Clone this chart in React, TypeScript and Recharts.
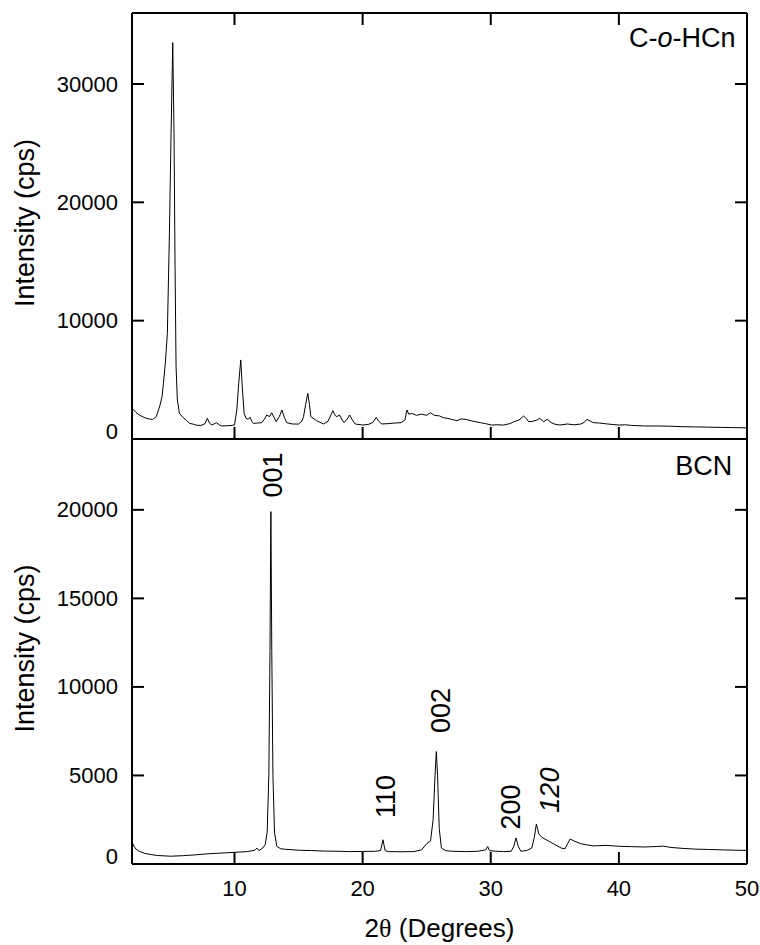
import React from 'react';
import { LineChart, Line, XAxis, YAxis, ReferenceDot } from 'recharts';

// C-o-HCn pattern (top panel)
const cohcnTheta = [
  2.0, 2.3, 2.6, 3.0, 3.3, 3.6, 3.9, 4.19, 4.35, 4.45, 4.6, 4.76, 4.92, 5.05, 5.18, 5.28, 5.36, 5.44, 5.54, 5.7,
  6.0, 6.27, 6.5, 6.8, 7.05, 7.4, 7.7, 7.88, 8.05, 8.2, 8.45, 8.6, 8.8, 9.0, 9.4, 9.8, 10.0, 10.18, 10.33, 10.49,
  10.59, 10.75, 10.9, 11.05, 11.22, 11.35, 11.48, 11.8, 12.13, 12.35, 12.52, 12.73, 12.9, 13.1, 13.25, 13.5, 13.7, 13.9, 14.08, 14.5,
  15.0, 15.25, 15.39, 15.55, 15.72, 15.85, 15.96, 16.2, 16.4, 16.95, 17.3, 17.68, 17.85, 17.99, 18.2, 18.4, 18.56, 18.8, 18.98, 19.2,
  19.42, 20.0, 20.5, 20.8, 21.06, 21.25, 21.5, 22.0, 22.5, 23.0, 23.3, 23.46, 23.6, 23.9, 24.2, 24.6, 25.0, 25.3, 25.6, 26.0,
  26.3, 26.6, 27.0, 27.36, 27.7, 28.1, 28.6, 29.2, 29.6, 30.05, 30.5, 31.0, 31.5, 31.8, 32.2, 32.57, 32.8, 32.96, 33.3, 33.6,
  33.82, 34.13, 34.4, 34.7, 35.0, 35.4, 35.96, 36.5, 37.0, 37.3, 37.5, 37.8, 38.0, 38.5, 39.1, 39.6, 40.0, 40.5, 41.0, 42.0,
  43.0, 44.0, 45.0, 46.0, 47.0, 48.0, 49.0, 50.0,
];
const cohcnCps = [
  2600, 2250, 2000, 1800, 1700, 1650, 1900, 2870, 3600, 4700, 6400, 8930, 17400, 25800, 33500, 25800, 14560, 6100, 3300, 2170,
  1800, 1550, 1320, 1250, 1160, 1150, 1300, 1750, 1350, 1180, 1300, 1380, 1200, 1100, 1120, 1150, 1200, 2450, 4700, 6680,
  4700, 2170, 1750, 1665, 1830, 1500, 1320, 1350, 1380, 1700, 2030, 1890, 2220, 1800, 1460, 1900, 2450, 1800, 1380, 1270,
  1260, 1500, 1890, 2900, 3860, 2900, 1890, 1700, 1550, 1270, 1500, 2390, 2000, 1890, 2030, 1600, 1380, 1700, 2030, 1600,
  1270, 1180, 1250, 1400, 1830, 1500, 1270, 1300, 1350, 1380, 1600, 2450, 2100, 2150, 2000, 2100, 2000, 2220, 2000, 1950,
  1800, 1750, 1650, 1550, 1700, 1650, 1500, 1380, 1300, 1180, 1200, 1180, 1300, 1460, 1600, 1940, 1700, 1460, 1500, 1600,
  1750, 1460, 1660, 1400, 1250, 1180, 1270, 1200, 1260, 1400, 1660, 1500, 1380, 1350, 1270, 1220, 1180, 1200, 1150, 1100,
  1100, 1080, 1040, 1020, 1000, 980, 960, 940,
];

// BCN pattern (bottom panel)
const bcnTheta = [
  2.0, 2.15, 2.3, 2.6, 3.0, 3.5, 4.0, 5.0, 6.0, 7.0, 8.0, 9.0, 10.0, 11.0, 11.6, 11.75, 11.9, 12.2, 12.4, 12.55,
  12.68, 12.77, 12.84, 12.91, 13.0, 13.12, 13.3, 13.6, 14.0, 15.0, 16.0, 17.0, 18.0, 19.0, 20.0, 21.0, 21.4, 21.59, 21.75, 22.0,
  23.0, 24.0, 24.6, 25.0, 25.3, 25.5, 25.65, 25.75, 25.85, 25.98, 26.15, 26.5, 27.0, 28.0, 29.0, 29.6, 29.76, 29.9, 30.5, 31.0,
  31.6, 31.8, 31.97, 32.15, 32.35, 32.8, 33.2, 33.4, 33.56, 33.75, 34.0, 34.5, 35.0, 35.5, 35.8, 36.0, 36.2, 36.5, 37.0, 37.5,
  38.0, 39.0, 40.0, 41.0, 42.0, 43.0, 43.5, 44.0, 45.0, 46.0, 47.0, 48.0, 49.0, 50.0,
];
const bcnCps = [
  1250, 1000, 850, 700, 600, 530, 480, 440, 470, 520, 580, 620, 660, 700, 780, 900, 760, 900, 1100, 1800,
  5000, 12000, 19900, 12000, 5000, 1800, 1000, 860, 830, 780, 760, 730, 720, 700, 710, 720, 760, 1370, 760, 700,
  690, 700, 800, 1150, 1300, 2500, 5000, 6350, 5000, 2000, 900, 750, 720, 700, 720, 800, 990, 750, 720, 700,
  720, 1000, 1470, 1000, 720, 760, 900, 1500, 2260, 1700, 1500, 1300, 1100, 900, 860, 1150, 1410, 1300, 1150, 1080,
  1020, 1050, 1000, 980, 960, 990, 1010, 940, 880, 840, 820, 800, 780, 770,
];

// reflection indices over the BCN peaks
const peakText = ['001', '110', '002', '200', '120'];
const peakTheta = [12.99, 21.84, 26.14, 31.61, 34.66];
const peakCps = [20700, 2600, 7400, 1950, 2900];
const peakItalic = [false, false, false, false, true];

const xTicksTop = [10, 20, 30, 40];
const xTicksBottom = [10, 20, 30, 40, 50];
const yTicksTop = [0, 10000, 20000, 30000];
const yTicksBottom = [0, 5000, 10000, 15000, 20000];

const topData = cohcnTheta.map((x, i) => ({ x, y: cohcnCps[i] }));
const bottomData = bcnTheta.map((x, i) => ({ x, y: bcnCps[i] }));

const FONT = '"Liberation Sans", Arial, sans-serif';
const axisLine = { stroke: '#000', strokeWidth: 2 };
const tickLine = { stroke: '#000', strokeWidth: 2 };
const blank = () => '';

const YTick = ({ x, y, payload }: any) => (
  <text
    x={x}
    y={payload.value === 0 ? y - 8 : y}
    textAnchor="end"
    dominantBaseline="central"
    fontSize={22}
    fontFamily={FONT}
    fill="#000"
  >
    {payload.value}
  </text>
);

const YTitle = ({ viewBox }: any) => {
  const cx = viewBox.x + 25;
  const cy = viewBox.y + viewBox.height / 2 - 3;
  return (
    <text
      x={cx}
      y={cy}
      transform={`rotate(-90, ${cx}, ${cy})`}
      textAnchor="middle"
      dominantBaseline="central"
      fontSize={27}
      fontFamily={FONT}
      fill="#000"
    >
      Intensity (cps)
    </text>
  );
};

const XTitle = ({ viewBox }: any) => {
  const cx = viewBox.x + viewBox.width / 2;
  const cy = viewBox.y + 64;
  return (
    <text x={cx} y={cy} textAnchor="middle" dominantBaseline="central" fontSize={26} fontFamily={FONT} fill="#000">
      2<tspan fontFamily='"Liberation Serif", serif'>θ</tspan> (Degrees)
    </text>
  );
};

const PeakLabel = ({ viewBox, text, italic }: any) => {
  const { x, y } = viewBox;
  return (
    <text
      x={x}
      y={y}
      transform={`rotate(-90, ${x}, ${y})`}
      textAnchor="start"
      dominantBaseline="central"
      fontSize={27}
      fontStyle={italic ? 'italic' : 'normal'}
      fontFamily={FONT}
      fill="#000"
    >
      {text}
    </text>
  );
};

const PanelLabel = ({ viewBox, children }: any) => (
  <text
    x={viewBox.x}
    y={viewBox.y}
    textAnchor="end"
    dominantBaseline="central"
    fontSize={27}
    fontFamily={FONT}
    fill="#000"
  >
    {children}
  </text>
);

export default function App() {
  return (
    <div style={{ position: 'absolute', left: 0, top: 0, width: 760, height: 945, background: '#fff', fontFamily: FONT }}>
      <div style={{ position: 'absolute', left: 0, top: 0 }}>
        <LineChart width={760} height={460} data={topData} margin={{ top: 12, right: 12, bottom: 0, left: 0 }}>
          <XAxis
            xAxisId="b"
            dataKey="x"
            type="number"
            domain={[2, 50]}
            allowDataOverflow
            ticks={xTicksTop}
            interval={0}
            height={21}
            tickSize={-12}
            tickFormatter={blank}
            axisLine={axisLine}
            tickLine={tickLine}
          />
          <XAxis
            xAxisId="t"
            orientation="top"
            dataKey="x"
            type="number"
            domain={[2, 50]}
            allowDataOverflow
            ticks={xTicksTop}
            interval={0}
            height={1}
            tickSize={-12}
            tickFormatter={blank}
            axisLine={axisLine}
            tickLine={tickLine}
          />
          <YAxis
            yAxisId="l"
            type="number"
            domain={[0, 36000]}
            allowDataOverflow
            ticks={yTicksTop}
            interval={0}
            width={132}
            tickSize={-12}
            tickMargin={26}
            tick={<YTick />}
            axisLine={axisLine}
            tickLine={tickLine}
            label={<YTitle />}
          />
          <YAxis
            yAxisId="r"
            orientation="right"
            type="number"
            domain={[0, 36000]}
            allowDataOverflow
            ticks={yTicksTop}
            interval={0}
            width={1}
            tickSize={-12}
            tickFormatter={blank}
            axisLine={axisLine}
            tickLine={tickLine}
          />
          <Line
            xAxisId="b"
            yAxisId="l"
            type="linear"
            dataKey="y"
            stroke="#000"
            strokeWidth={1}
            dot={false}
            isAnimationActive={false}
          />
          <ReferenceDot
            xAxisId="b"
            yAxisId="l"
            x={49.1}
            y={33900}
            r={0}
            fill="none"
            stroke="none"
            label={
              <PanelLabel>
                C-<tspan fontStyle="italic">o</tspan>-HCn
              </PanelLabel>
            }
          />
        </LineChart>
      </div>
      <div style={{ position: 'absolute', left: 0, top: 439 }}>
        <LineChart width={760} height={506} data={bottomData} margin={{ top: 0, right: 12, bottom: 0, left: 0 }}>
          <XAxis
            xAxisId="b"
            dataKey="x"
            type="number"
            domain={[2, 50]}
            allowDataOverflow
            ticks={xTicksBottom}
            interval={0}
            height={81}
            tickSize={-12}
            tickMargin={28}
            tick={{ fontSize: 22, fill: '#000', fontFamily: FONT }}
            axisLine={axisLine}
            tickLine={tickLine}
            label={<XTitle />}
          />
          <YAxis
            yAxisId="l"
            type="number"
            domain={[0, 24000]}
            allowDataOverflow
            ticks={yTicksBottom}
            interval={0}
            width={132}
            tickSize={-12}
            tickMargin={26}
            tick={<YTick />}
            axisLine={axisLine}
            tickLine={tickLine}
            label={<YTitle />}
          />
          <YAxis
            yAxisId="r"
            orientation="right"
            type="number"
            domain={[0, 24000]}
            allowDataOverflow
            ticks={yTicksBottom}
            interval={0}
            width={1}
            tickSize={-12}
            tickFormatter={blank}
            axisLine={axisLine}
            tickLine={tickLine}
          />
          <Line
            xAxisId="b"
            yAxisId="l"
            type="linear"
            dataKey="y"
            stroke="#000"
            strokeWidth={1}
            dot={false}
            isAnimationActive={false}
          />
          {peakText.map((t, i) => (
            <ReferenceDot
              key={t}
              xAxisId="b"
              yAxisId="l"
              x={peakTheta[i]}
              y={peakCps[i]}
              r={0}
              fill="none"
              stroke="none"
              label={<PeakLabel text={t} italic={peakItalic[i]} />}
            />
          ))}
          <ReferenceDot
            xAxisId="b"
            yAxisId="l"
            x={48.85}
            y={22480}
            r={0}
            fill="none"
            stroke="none"
            label={<PanelLabel>BCN</PanelLabel>}
          />
        </LineChart>
      </div>
    </div>
  );
}
